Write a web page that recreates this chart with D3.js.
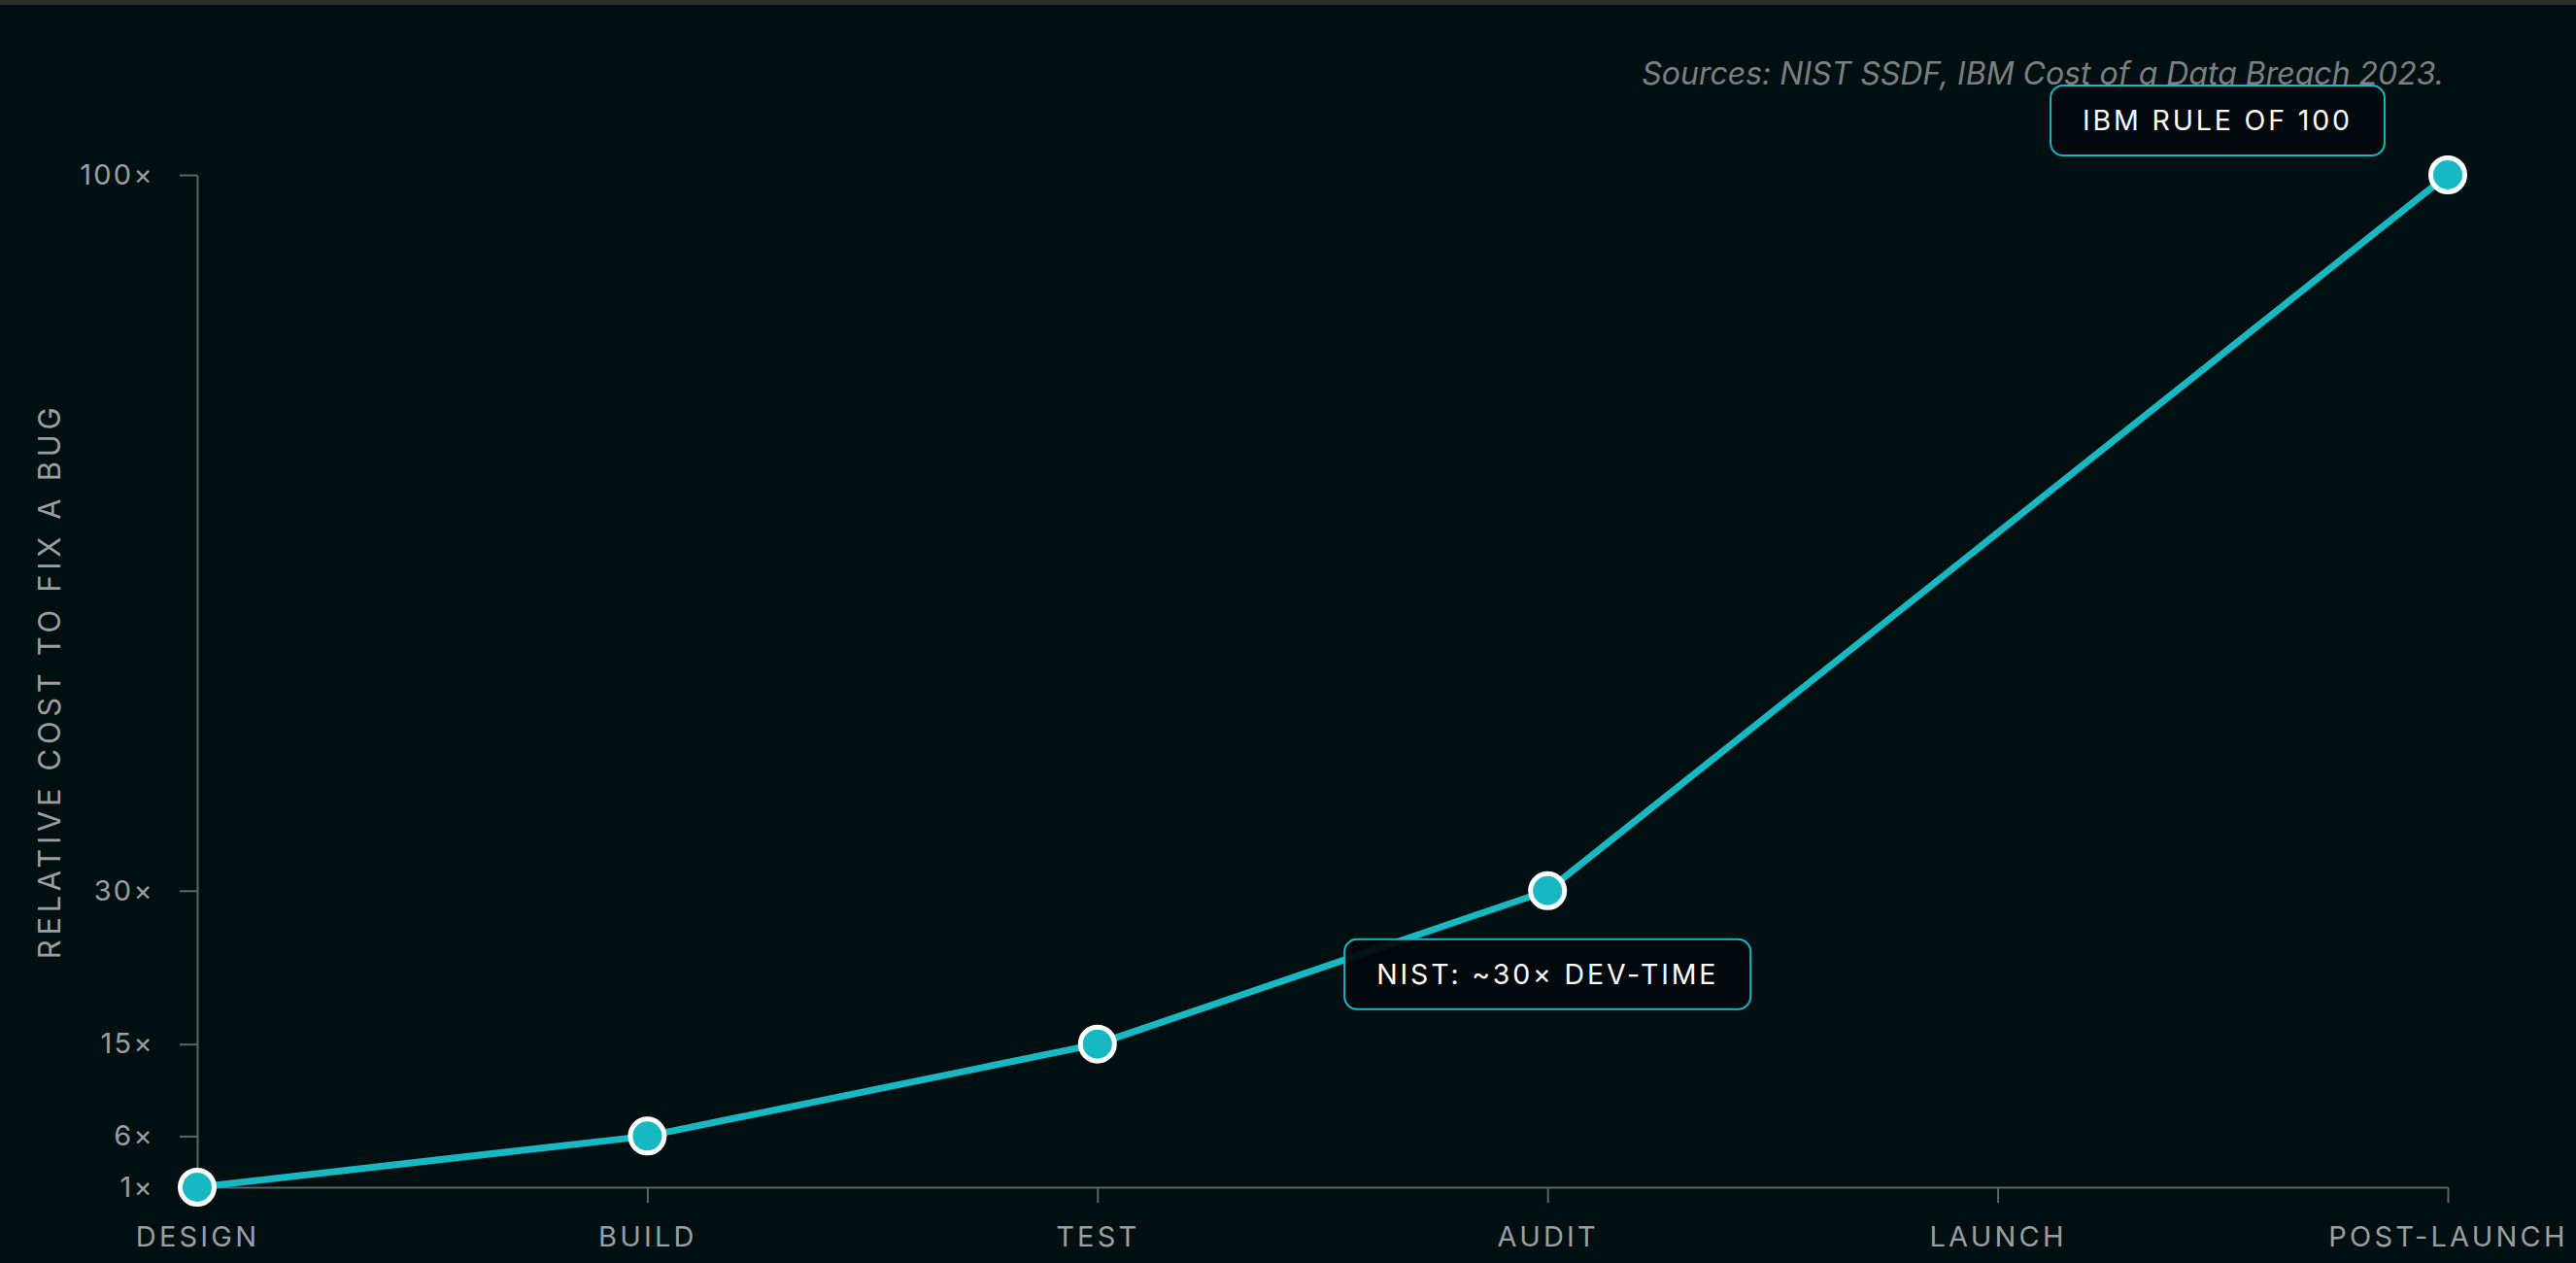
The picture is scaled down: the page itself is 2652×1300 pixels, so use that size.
<!DOCTYPE html>
<html>
<head>
<meta charset="utf-8">
<script src="https://cdn.jsdelivr.net/npm/d3@7"></script>
<style>
  html, body { margin: 0; padding: 0; background: #020f11; }
  body { width: 2652px; height: 1300px; overflow: hidden; }
  .topbar { height: 5px; background: #2e2e2e; }
  svg { display: block; font-family: Inter, "Noto Sans", sans-serif; }
</style>
</head>
<body>
<div class="topbar"></div>
<div id="chart"></div>
<script>
// etapas do ciclo de vida e custo relativo de correção
const stages = ["DESIGN", "BUILD", "TEST", "AUDIT", "LAUNCH", "POST-LAUNCH"];
const pointStages = ["DESIGN", "BUILD", "TEST", "AUDIT", "POST-LAUNCH"];
const costValues = [1, 6, 15, 30, 100];
const yTicks = [1, 6, 15, 30, 100];

const noteStages = ["AUDIT", "POST-LAUNCH"];
const noteTexts = ["NIST: ~30× DEV-TIME", "IBM RULE OF 100"];

const yTitle = "RELATIVE COST TO FIX A BUG";
const sourceText = "Sources: NIST SSDF, IBM Cost of a Data Breach 2023.";

const desenharGrafico = () => {
  const width = 2652;
  const height = 1295;
  const margin = { top: 175, right: 132, bottom: 78, left: 203 };

  const teal = "#17b8c1";
  const axisColor = "#5d6566";
  const labelColor = "#999fa0";

  const svg = d3
    .select("#chart")
    .append("svg")
    .attr("width", width)
    .attr("height", height);

  const x = d3
    .scalePoint()
    .domain(stages)
    .range([margin.left, width - margin.right]);

  const y = d3
    .scaleLinear()
    .domain([1, 100])
    .range([height - margin.bottom, margin.top]);

  // eixo x
  const xAxis = svg
    .append("g")
    .attr("transform", `translate(0,${height - margin.bottom})`)
    .call(d3.axisBottom(x).tickSize(16).tickSizeOuter(0).tickPadding(0));

  xAxis.select(".domain").attr("stroke", axisColor).attr("stroke-width", 2);
  xAxis.selectAll(".tick line").attr("stroke", axisColor).attr("stroke-width", 2);
  xAxis
    .selectAll(".tick text")
    .attr("y", 40)
    .attr("dy", "0.72em")
    .attr("fill", labelColor)
    .attr("font-size", 29)
    .attr("letter-spacing", "0.11em")
    .attr("font-family", "Inter, sans-serif");

  // eixo y
  const yAxis = svg
    .append("g")
    .attr("transform", `translate(${margin.left},0)`)
    .call(
      d3
        .axisLeft(y)
        .tickValues(yTicks)
        .tickSize(18)
        .tickSizeOuter(0)
        .tickPadding(26)
        .tickFormat((d) => d + "×"),
    );

  yAxis.select(".domain").attr("stroke", axisColor).attr("stroke-width", 2);
  yAxis.selectAll(".tick line").attr("stroke", axisColor).attr("stroke-width", 2);
  yAxis
    .selectAll(".tick text")
    .attr("fill", labelColor)
    .attr("font-size", 29)
    .attr("letter-spacing", "0.08em")
    .attr("font-family", "Inter, sans-serif");

  svg
    .append("text")
    .attr("transform", `translate(51,${(y(100) + y(1)) / 2}) rotate(-90)`)
    .attr("text-anchor", "middle")
    .attr("dy", "0.35em")
    .attr("fill", labelColor)
    .attr("font-size", 31)
    .attr("letter-spacing", "0.15em")
    .text(yTitle);

  svg
    .append("text")
    .attr("x", width - margin.right - 4)
    .attr("y", 82)
    .attr("text-anchor", "end")
    .attr("fill", "#7a8081")
    .attr("font-size", 32)
    .attr("font-style", "italic")
    .text(sourceText);

  const pontos = pointStages.map((s, i) => ({ stage: s, value: costValues[i] }));

  const linha = d3
    .line()
    .x((d) => x(d.stage))
    .y((d) => y(d.value));

  svg
    .append("path")
    .datum(pontos)
    .attr("fill", "none")
    .attr("stroke", teal)
    .attr("stroke-width", 7)
    .attr("stroke-linejoin", "round")
    .attr("d", linha);

  svg
    .append("g")
    .selectAll("circle")
    .data(pontos)
    .join("circle")
    .attr("cx", (d) => x(d.stage))
    .attr("cy", (d) => y(d.value))
    .attr("r", 17.5)
    .attr("fill", teal)
    .attr("stroke", "#ffffff")
    .attr("stroke-width", 5);

  // anotações
  const notas = noteStages.map((s, i) => {
    const idx = pointStages.indexOf(s);
    return { stage: s, value: costValues[idx], text: noteTexts[i] };
  });

  const notaG = svg
    .append("g")
    .selectAll("g")
    .data(notas)
    .join("g")
    .attr("transform", (d, i) => {
      const px = x(d.stage);
      const py = y(d.value);
      // primeira caixa abaixo do ponto, segunda acima e à esquerda
      if (i === 0) return `translate(${px},${py + 86})`;
      return `translate(${px - 237},${py - 56})`;
    });

  notaG
    .append("rect")
    .attr("fill", "#02090b")
    .attr("fill-opacity", 0.94)
    .attr("stroke", teal)
    .attr("stroke-width", 2)
    .attr("rx", 13)
    .attr("ry", 13);

  notaG
    .append("text")
    .attr("text-anchor", "middle")
    .attr("dy", "0.36em")
    .attr("fill", "#ffffff")
    .attr("font-size", 28.5)
    .attr("letter-spacing", "0.1em")
    .text((d) => d.text);

  notaG.each(function () {
    const g = d3.select(this);
    const w = g.select("text").node().getBBox().width;
    g.select("rect")
      .attr("x", -w / 2 - 33)
      .attr("y", -36)
      .attr("width", w + 66)
      .attr("height", 72);
  });
};

desenharGrafico();
</script>
</body>
</html>
